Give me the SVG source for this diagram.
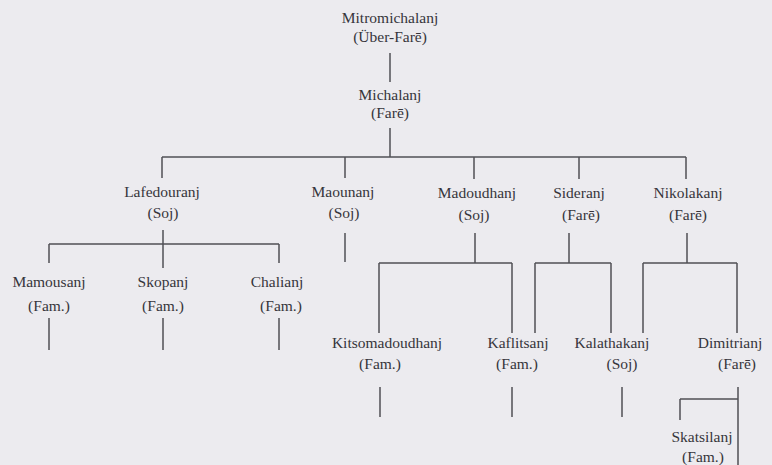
<svg xmlns="http://www.w3.org/2000/svg" width="772" height="465" viewBox="0 0 772 465">
  <style>
    .lbl { font-family: "Liberation Serif", "Times New Roman", serif; font-size: 15.5px; fill: #36353b; text-anchor: middle; }
    .ln { stroke: #505056; stroke-width: 1.5; fill: none; stroke-linecap: butt; }
  </style>
  <rect width="772" height="465" fill="#ecebef"/>

  <!-- connectors -->
  <g id="connectors" class="ln">
    <path d="M390 53V82"/>
    <path d="M390 128V157"/>
    <path d="M162 157H686"/>
    <path d="M162 157V178M345 157V178M474 157V179M579 157V179M686 157V179"/>
    <!-- Lafedouranj branch -->
    <path d="M163 230V268"/>
    <path d="M49 244H279M49 244V263M279 244V263"/>
    <path d="M49 318V350M163 318V350M279 318V350"/>
    <!-- Maounanj -->
    <path d="M345 233V262"/>
    <!-- Madoudhanj branch -->
    <path d="M475 233V263M379 263H512M379 263V333M512 263V333"/>
    <!-- Sideranj branch -->
    <path d="M569 233V263M535 263H611M535 263V333M611 263V333"/>
    <!-- Nikolakanj branch -->
    <path d="M687 233V263M643 263H737M643 263V333M737 263V333"/>
    <!-- bottom stubs -->
    <path d="M380 387V417M512 387V417M622 387V417"/>
    <!-- Dimitrianj -->
    <path d="M738 387V465M680 399H738M680 399V420"/>
  </g>

  <g id="mitromichalanj">
    <text class="lbl" x="390" y="23">Mitromichalanj</text>
    <text class="lbl" x="390" y="42">(Über-Farē)</text>
  </g>
  <g id="michalanj">
    <text class="lbl" x="390" y="100">Michalanj</text>
    <text class="lbl" x="390" y="118">(Farē)</text>
  </g>
  <g id="lafedouranj">
    <text class="lbl" x="162" y="197">Lafedouranj</text>
    <text class="lbl" x="163" y="218">(Soj)</text>
  </g>
  <g id="maounanj">
    <text class="lbl" x="343" y="197">Maounanj</text>
    <text class="lbl" x="344" y="218">(Soj)</text>
  </g>
  <g id="madoudhanj">
    <text class="lbl" x="477" y="198">Madoudhanj</text>
    <text class="lbl" x="474" y="220">(Soj)</text>
  </g>
  <g id="sideranj">
    <text class="lbl" x="579" y="198">Sideranj</text>
    <text class="lbl" x="581" y="220">(Farē)</text>
  </g>
  <g id="nikolakanj">
    <text class="lbl" x="688" y="198">Nikolakanj</text>
    <text class="lbl" x="688" y="220">(Farē)</text>
  </g>
  <g id="mamousanj">
    <text class="lbl" x="49" y="287">Mamousanj</text>
    <text class="lbl" x="49" y="311">(Fam.)</text>
  </g>
  <g id="skopanj">
    <text class="lbl" x="163" y="287">Skopanj</text>
    <text class="lbl" x="163" y="311">(Fam.)</text>
  </g>
  <g id="chalianj">
    <text class="lbl" x="277" y="287">Chalianj</text>
    <text class="lbl" x="281" y="311">(Fam.)</text>
  </g>
  <g id="kitsomadoudhanj">
    <text class="lbl" x="387" y="348">Kitsomadoudhanj</text>
    <text class="lbl" x="380" y="369">(Fam.)</text>
  </g>
  <g id="kaflitsanj">
    <text class="lbl" x="518" y="348">Kaflitsanj</text>
    <text class="lbl" x="517" y="369">(Fam.)</text>
  </g>
  <g id="kalathakanj">
    <text class="lbl" x="612" y="348">Kalathakanj</text>
    <text class="lbl" x="622" y="369">(Soj)</text>
  </g>
  <g id="dimitrianj">
    <text class="lbl" x="730" y="348">Dimitrianj</text>
    <text class="lbl" x="737" y="369">(Farē)</text>
  </g>
  <g id="skatsilanj">
    <text class="lbl" x="702" y="442">Skatsilanj</text>
    <text class="lbl" x="703" y="462">(Fam.)</text>
  </g>
</svg>
